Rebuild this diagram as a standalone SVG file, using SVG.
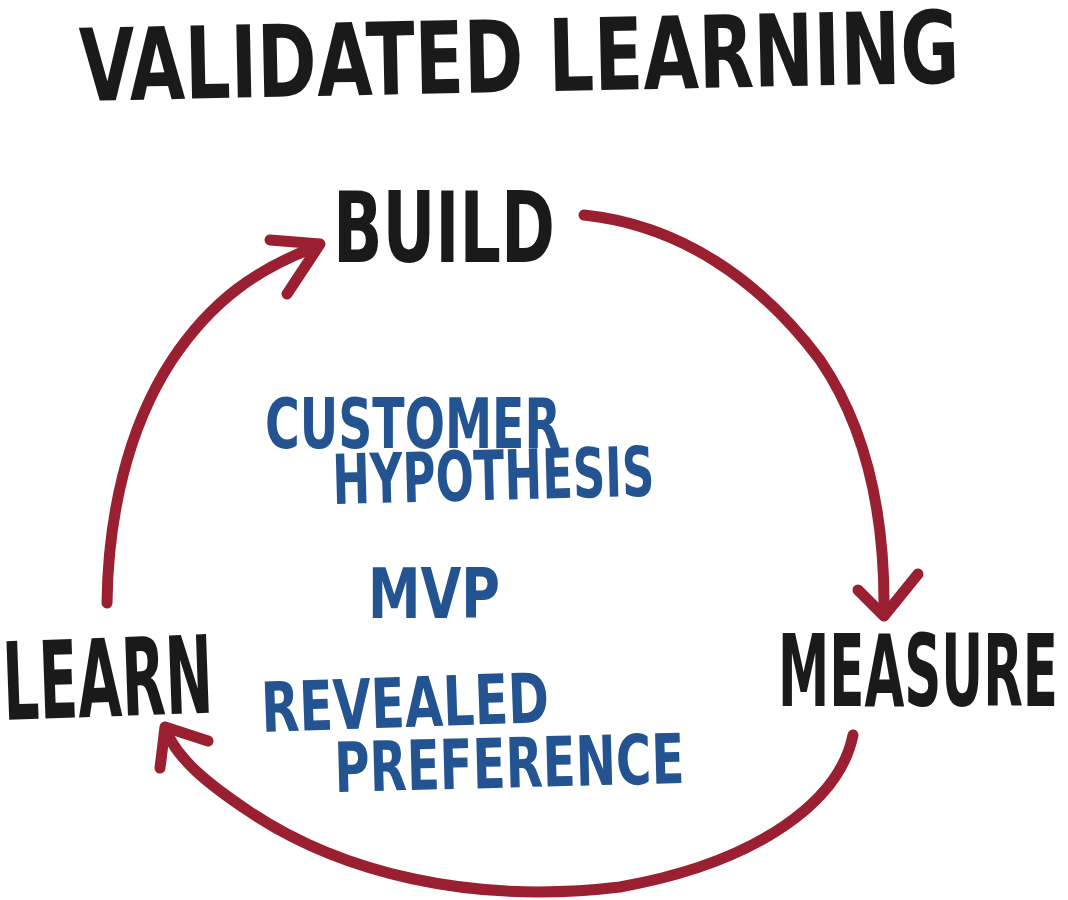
<svg xmlns="http://www.w3.org/2000/svg" width="1068" height="900" viewBox="0 0 1068 900">
<defs>
<style>
.blk{font-family:"DejaVu Sans Condensed","Liberation Sans",sans-serif;font-weight:bold;fill:#1a1a1a}
.blu{font-family:"DejaVu Sans Condensed","Liberation Sans",sans-serif;font-weight:bold;fill:#235391}
.arc{fill:none;stroke:#9a1f30;stroke-width:11;stroke-linecap:round;stroke-linejoin:round}
</style>
</defs>
<rect width="1068" height="900" fill="#ffffff"/>
<g id="title"><text class="blk" x="0" y="0" font-size="66" textLength="880" lengthAdjust="spacingAndGlyphs" transform="translate(80,101) rotate(-1.2) scale(1,1.52)">VALIDATED LEARNING</text></g>
<g id="connectors">
<path class="arc" d="M107,603 C108,520 126,430 172,360 C212,300 258,268 318,246"/>
<path class="arc" d="M270,240 L320,244 L287,294"/>
<path class="arc" d="M584,215 C680,225 760,280 820,360 C868,430 885,520 884,612"/>
<path class="arc" d="M858,590 L884,616 L918,574"/>
<path class="arc" d="M853,735 C840,800 760,862 620,887 C470,905 340,872 250,812 C205,782 180,760 168,735"/>
<path class="arc" d="M160,768 L165,727 L208,741"/>
</g>
<g id="build"><text class="blk" x="0" y="0" font-size="68" textLength="222" lengthAdjust="spacingAndGlyphs" transform="translate(333,262) scale(1,1.45)">BUILD</text></g>
<g id="measure"><text class="blk" x="0" y="0" font-size="56" textLength="280" lengthAdjust="spacingAndGlyphs" transform="translate(778,706) scale(1,1.78)">MEASURE</text></g>
<g id="learn"><text class="blk" x="0" y="0" font-size="60" textLength="210" lengthAdjust="spacingAndGlyphs" transform="translate(4,720) rotate(-2) scale(1,1.8)">LEARN</text></g>
<g id="center">
<text class="blu" x="0" y="0" font-size="50" textLength="296" lengthAdjust="spacingAndGlyphs" transform="translate(265,448) scale(1,1.38)">CUSTOMER</text>
<text class="blu" x="0" y="0" font-size="50" textLength="322" lengthAdjust="spacingAndGlyphs" transform="translate(333,504) rotate(-1.5) scale(1,1.38)">HYPOTHESIS</text>
<text class="blu" x="0" y="0" font-size="50" textLength="132" lengthAdjust="spacingAndGlyphs" transform="translate(368,618) scale(1,1.38)">MVP</text>
<text class="blu" x="0" y="0" font-size="50" textLength="288" lengthAdjust="spacingAndGlyphs" transform="translate(262,732) rotate(-2) scale(1,1.38)">REVEALED</text>
<text class="blu" x="0" y="0" font-size="50" textLength="350" lengthAdjust="spacingAndGlyphs" transform="translate(335,792) rotate(-1.5) scale(1,1.38)">PREFERENCE</text>
</g>
</svg>
